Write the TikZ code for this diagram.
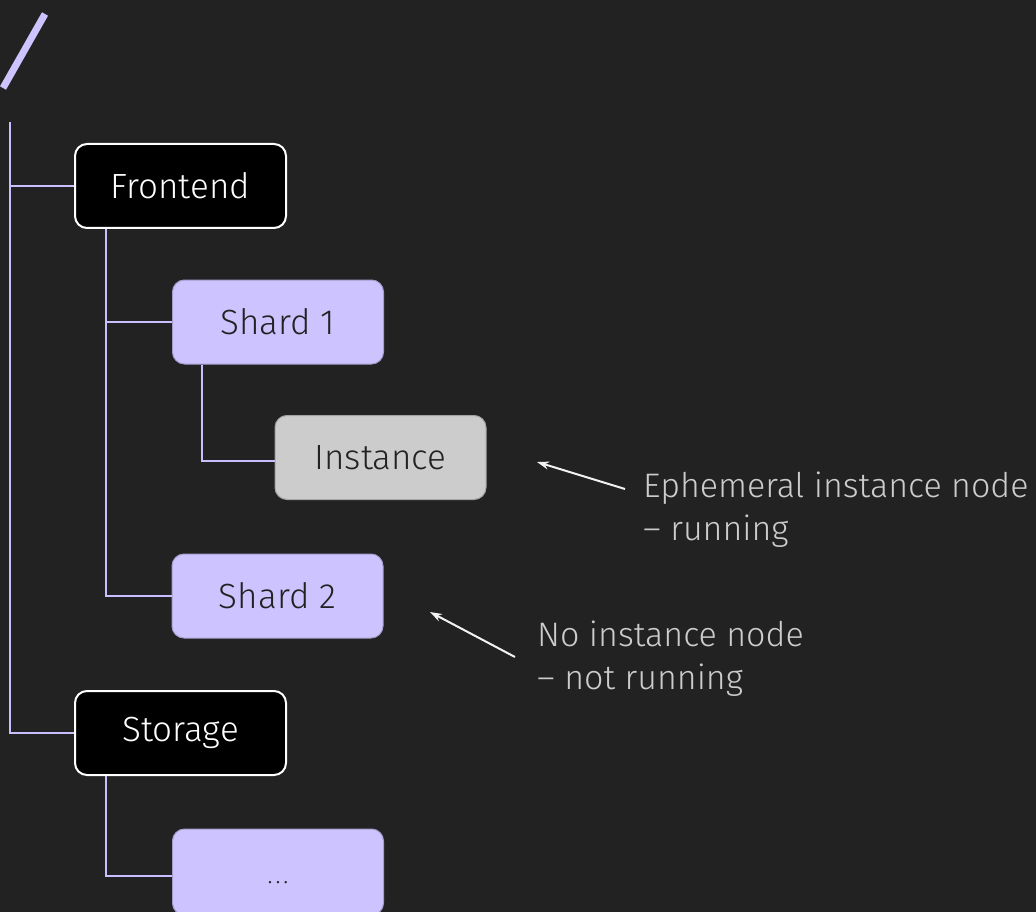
\documentclass[tikz,border=0pt]{standalone}
\usepackage{fontspec}
\setmainfont{Fira Sans Light}
\usetikzlibrary{arrows.meta}
\definecolor{bg}{HTML}{222222}
\definecolor{lav}{HTML}{CDC4FF}
\definecolor{lavline}{HTML}{C9BFFF}
\definecolor{gry}{HTML}{CCCCCC}
\tikzset{
  base/.style={rounded corners=12pt, minimum width=211pt, minimum height=84pt, inner sep=0pt, font=\fontsize{35}{40}\selectfont},
  darkbox/.style={base, fill=black, draw=white, line width=2pt, text=white},
  lavbox/.style={base, fill=lav, draw=lav!80!black, line width=1pt, text=bg},
  graybox/.style={base, fill=gry, draw=gry!80!black, line width=1pt, text=bg},
  conn/.style={draw=lavline, line width=1.3pt},
  note/.style={text=gry, align=left, anchor=north west, inner sep=0pt, font=\fontsize{34}{43}\selectfont},
  pointer/.style={draw=white!95!black, line width=2pt, -{Stealth[length=12pt,width=8pt]}}
}
\begin{document}
\begin{tikzpicture}[x=1pt,y=-1pt]
\fill[bg] (0,0) rectangle (1036,912);
\useasboundingbox (0,0) rectangle (1036,912);
\draw[lav, line width=7pt] (3,88) -- (45,14);
\node[darkbox] (fe) at (180.5,186) {Frontend};
\node[lavbox] (s1) at (278,322) {Shard 1};
\node[graybox] (in) at (380.5,457.5) {Instance};
\node[lavbox] (s2) at (277.5,596) {Shard 2};
\node[darkbox] (st) at (180.5,733) {Storage};
\node[lavbox, minimum height=86pt] (dd) at (278,872) {\raisebox{-24pt}{\fontsize{24}{28}\selectfont.\kern3pt.\kern3pt.}};
\coordinate (top) at (10,122);
\coordinate (bot) at (10,733);
\draw[conn] (top) -- (bot) -- (st.west);
\draw[conn] (10,186) -- (fe.west);
\draw[conn] (fe.south -| 106,0) -- (106,596) -- (s2.west);
\draw[conn] (106,322) -- (s1.west);
\draw[conn] (s1.south -| 202,0) -- (202,461) -- (in.west |- 0,461);
\draw[conn] (st.south -| 106,0) -- (106,876) -- (dd.west |- 0,876);
\node[note] (n1) at (643,472) {Ephemeral instance node\\– running};
\node[note] (n2) at (537,621) {No instance node\\– not running};
\coordinate (a1) at (537,462);
\coordinate (a2) at (430,612);
\draw[pointer] (625,489) -- (a1);
\draw[pointer] (515,657) -- (a2);
\end{tikzpicture}
\end{document}
